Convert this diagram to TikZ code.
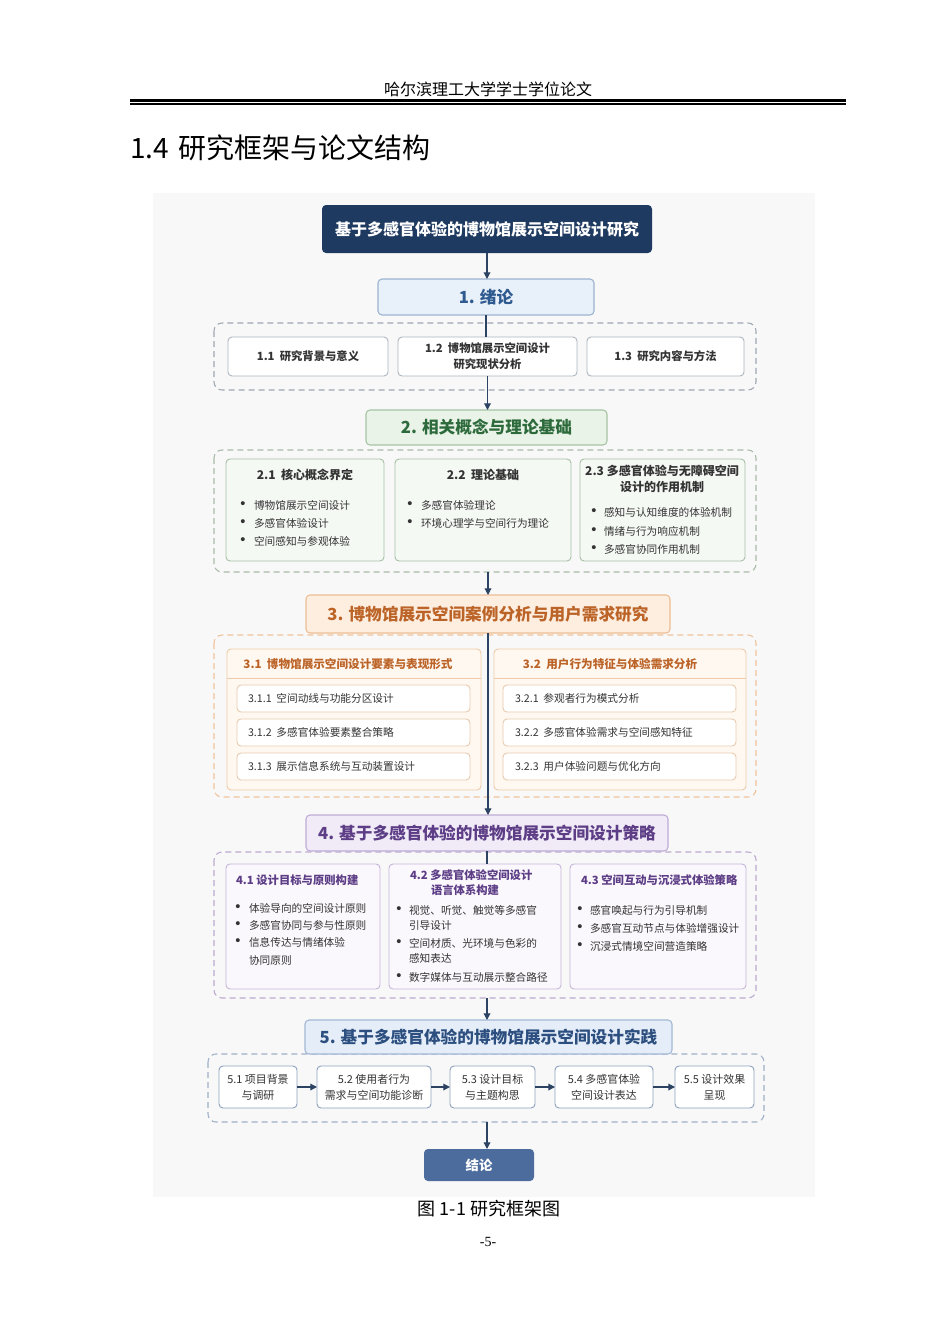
\documentclass[tikz,border=0pt]{standalone}
\usepackage{fontspec}
\setmainfont{Liberation Serif}
\newfontfamily\cjk{Noto Sans CJK SC}
\newfontfamily\bulfont{Liberation Sans}
\usetikzlibrary{arrows.meta,fit}
\definecolor{navy}{HTML}{1F3A60}
\definecolor{arr}{HTML}{2D4363}
\definecolor{bgc}{HTML}{F8F8F8}
\definecolor{txt}{HTML}{333333}
\definecolor{aF}{HTML}{E8F0FA}\definecolor{aD}{HTML}{9DB3D0}\definecolor{aT}{HTML}{2F5A8F}
\definecolor{gG}{HTML}{A0A8B3}\definecolor{iD}{HTML}{AEB6BF}
\definecolor{bF}{HTML}{EAF3E8}\definecolor{bD}{HTML}{A5C4A3}\definecolor{bT}{HTML}{2E6B3C}
\definecolor{bG}{HTML}{A8BBA8}\definecolor{bxF}{HTML}{F5F9F4}\definecolor{bxD}{HTML}{A7C0A6}
\definecolor{cF}{HTML}{FDEEE0}\definecolor{cD}{HTML}{EDBE93}\definecolor{cT}{HTML}{BC6428}
\definecolor{cG}{HTML}{EFC39A}\definecolor{cpF}{HTML}{FFF8F1}\definecolor{cpD}{HTML}{EECBA8}\definecolor{ciD}{HTML}{E8CBAE}
\definecolor{dF}{HTML}{F1EBF7}\definecolor{dD}{HTML}{BEACD6}\definecolor{dT}{HTML}{5C3D86}
\definecolor{dG}{HTML}{BBAACF}\definecolor{dxF}{HTML}{FBF8FD}\definecolor{dxD}{HTML}{C6B6DA}
\definecolor{eF}{HTML}{E4EDF8}\definecolor{eD}{HTML}{A3B8D6}\definecolor{eT}{HTML}{2C4F80}
\definecolor{eG}{HTML}{9FB0C8}\definecolor{exD}{HTML}{8EA2BF}
\definecolor{endc}{HTML}{4B6C9D}
\newcommand\fsz[2]{\fontsize{#1pt}{#2pt}\selectfont}
\newcommand\bul[4]{\node[bdot] at (#1,#3) {•};\node[btxt,anchor=west] at (#2,#3) {#4};}
\begin{document}
\begin{tikzpicture}[x=0.75pt,y=-0.75pt,
  every node/.style={inner sep=0pt,outer sep=0pt},
  secbox/.style={rounded corners=3pt,line width=0.8pt},
  sectxt/.style={font=\cjk\bfseries\fsz{12.5}{15}},
  grp/.style={draw=#1,dash pattern=on 4.5pt off 3pt,rounded corners=6pt,line width=0.8pt},
  itembox/.style={draw=#1,fill=white,rounded corners=3pt,line width=0.7pt},
  subbox/.style={rounded corners=3pt,line width=0.7pt},
  btxt/.style={font=\cjk\fsz{8}{10},text=txt},
  bdot/.style={font=\bulfont\fsz{11}{12},text=txt},
  ttl/.style={font=\cjk\bfseries\fsz{9}{12},align=center},
  conn/.style={draw=arr,line width=0.9pt},
  arw/.style={conn,-{Triangle[length=5pt,width=5pt]}}]
\useasboundingbox (0,0) rectangle (950,1342);
\fill[white] (0,0) rectangle (950,1342);
% page header
\node[font=\cjk\fsz{12}{14}] (hdr) at (488,89) {哈尔滨理工大学学士学位论文};
\draw[line width=2.25pt] (130,100.5) -- (846,100.5);
\draw[line width=0.9pt] (130,104) -- (846,104);
\node[anchor=west,font=\cjk\fsz{21}{24}] (sec) at (130,148) {1.4\hspace{7pt}研究框架与论文结构};
% diagram background
\fill[bgc] (153,193) rectangle (815,1197);
% groups
\draw[grp=gG] (214,323) rectangle (756,390);
\draw[grp=bG] (214,450) rectangle (756,572);
\draw[grp=cG] (214,635) rectangle (756,797);
\draw[grp=dG] (214,852) rectangle (756,998);
\draw[grp=eG] (208,1054) rectangle (764,1122);
\node[fit={(214,323)(756,390)}] (g1) {};
\node[fit={(214,450)(756,572)}] (g2) {};
\node[fit={(214,635)(756,797)}] (g3) {};
\node[fit={(214,852)(756,998)}] (g4) {};
\node[fit={(208,1054)(764,1122)}] (g5) {};
% box shapes (empty fitted nodes)
\node[fill=navy,rounded corners=3pt,fit={(322,205)(652,253)}] (title) {};
\node[secbox,fill=aF,draw=aD,fit={(378,279)(594,315)}] (s1) {};
\node[itembox=iD,fit={(228,337)(388,376)}] (b11) {};
\node[itembox=iD,fit={(398,337)(577,376)}] (b12) {};
\node[itembox=iD,fit={(587,337)(744,376)}] (b13) {};
\node[secbox,fill=bF,draw=bD,fit={(366,410)(607,445)}] (s2) {};
\node[subbox,fill=bxF,draw=bxD,fit={(226,459)(384,561)}] (b21) {};
\node[subbox,fill=bxF,draw=bxD,fit={(395,459)(571,561)}] (b22) {};
\node[subbox,fill=bxF,draw=bxD,fit={(580,459)(745,561)}] (b23) {};
\node[secbox,fill=cF,draw=cD,fit={(306,595)(670,633)}] (s3) {};
\node[subbox,fill=cpF,draw=cpD,fit={(227,649)(481,790)}] (p31) {};
\node[subbox,fill=cpF,draw=cpD,fit={(494,649)(746,790)}] (p32) {};
\node[secbox,fill=dF,draw=dD,fit={(306,815)(668,851)}] (s4) {};
\node[subbox,fill=dxF,draw=dxD,fit={(226,864)(380,989)}] (b41) {};
\node[subbox,fill=dxF,draw=dxD,fit={(389,864)(561,989)}] (b42) {};
\node[subbox,fill=dxF,draw=dxD,fit={(570,864)(746,989)}] (b43) {};
\node[secbox,fill=eF,draw=eD,fit={(305,1020)(672,1054)}] (s5) {};
\tikzset{fivebox/.style={draw=exD,fill=white,rounded corners=3pt,line width=0.7pt}}
\node[fivebox,fit={(219,1066)(297,1108)}] (b51) {};
\node[fivebox,fit={(317,1066)(431,1108)}] (b52) {};
\node[fivebox,fit={(450,1066)(535,1108)}] (b53) {};
\node[fivebox,fit={(555,1066)(653,1108)}] (b54) {};
\node[fivebox,fit={(675,1066)(754,1108)}] (b55) {};
\node[fill=endc,rounded corners=3pt,fit={(424,1149)(534,1181)}] (end) {};
% connectors
\draw[arw] (title.south) -- (title.south |- s1.north);
\draw[conn] (s1.south) -- (s1.south |- b12.north);
\draw[arw] (b12.south) -- (b12.south |- s2.north);
\draw[arw] (s3.north |- g2.south) -- (s3.north);
\draw[arw] (s3.south) -- (s3.south |- s4.north);
\draw[conn] (s4.south) -- (s4.south |- b42.north);
\draw[arw] (s4.south |- g4.south) -- (s4.south |- s5.north);
\draw[arw] (s4.south |- g5.south) -- (s4.south |- end.north);
\draw[arw] (b51.east) -- (b52.west);
\draw[arw] (b52.east) -- (b53.west);
\draw[arw] (b53.east) -- (b54.west);
\draw[arw] (b54.east) -- (b55.west);
% texts
\node[font=\cjk\bfseries\fsz{12}{14},text=white] (titlet) at (title) {基于多感官体验的博物馆展示空间设计研究};
\node[sectxt,text=aT] (s1t) at (s1) {1. 绪论};
\node[font=\cjk\bfseries\fsz{8.5}{12},text=txt] (b11t) at (b11) {1.1\ \ 研究背景与意义};
\node[font=\cjk\bfseries\fsz{8.5}{12},text=txt,align=center] (b12t) at (b12) {1.2\ \ 博物馆展示空间设计\\研究现状分析};
\node[font=\cjk\bfseries\fsz{8.5}{12},text=txt] (b13t) at (b13) {1.3\ \ 研究内容与方法};
\node[sectxt,text=bT] (s2t) at (s2) {2. 相关概念与理论基础};
\node[ttl,text=txt] (t21) at (305,475) {2.1\ \ 核心概念界定};
\node[ttl,text=txt] (t22) at (483,475) {2.2\ \ 理论基础};
\node[ttl,text=txt] (t23) at (662,479) {2.3 多感官体验与无障碍空间\\设计的作用机制};
\bul{243}{254}{505}{博物馆展示空间设计}
\bul{243}{254}{523}{多感官体验设计}
\bul{243}{254}{541}{空间感知与参观体验}
\bul{410}{421}{505}{多感官体验理论}
\bul{410}{421}{523}{环境心理学与空间行为理论}
\bul{594}{604}{512}{感知与认知维度的体验机制}
\bul{594}{604}{531}{情绪与行为响应机制}
\bul{594}{604}{549}{多感官协同作用机制}
\node[sectxt,text=cT] (s3t) at (s3) {3. 博物馆展示空间案例分析与用户需求研究};
\draw[cpD,line width=0.7pt] (p31.west |- 0,678) -- (p31.east |- 0,678);
\draw[cpD,line width=0.7pt] (p32.west |- 0,678) -- (p32.east |- 0,678);
\node[font=\cjk\bfseries\fsz{8.7}{11},text=cT] (t31) at (348,664) {3.1\ \ 博物馆展示空间设计要素与表现形式};
\node[font=\cjk\bfseries\fsz{8.7}{11},text=cT] (t32) at (610,664) {3.2\ \ 用户行为特征与体验需求分析};
\node[itembox=ciD,fit={(237,685)(470,712)}] (i311) {};
\node[itembox=ciD,fit={(237,719)(470,746)}] (i312) {};
\node[itembox=ciD,fit={(237,753)(470,780)}] (i313) {};
\node[itembox=ciD,fit={(503,685)(736,712)}] (i321) {};
\node[itembox=ciD,fit={(503,719)(736,746)}] (i322) {};
\node[itembox=ciD,fit={(503,753)(736,780)}] (i323) {};
\node[btxt,anchor=west] (i311t) at (248,698.5) {3.1.1\ \ 空间动线与功能分区设计};
\node[btxt,anchor=west] (i312t) at (248,732.5) {3.1.2\ \ 多感官体验要素整合策略};
\node[btxt,anchor=west] (i313t) at (248,766.5) {3.1.3\ \ 展示信息系统与互动装置设计};
\node[btxt,anchor=west] (i321t) at (515,698.5) {3.2.1\ \ 参观者行为模式分析};
\node[btxt,anchor=west] (i322t) at (515,732.5) {3.2.2\ \ 多感官体验需求与空间感知特征};
\node[btxt,anchor=west] (i323t) at (515,766.5) {3.2.3\ \ 用户体验问题与优化方向};
\node[sectxt,text=dT] (s4t) at (s4) {4. 基于多感官体验的博物馆展示空间设计策略};
\node[font=\cjk\bfseries\fsz{8.5}{11},text=dT,anchor=west] (t41) at (236,880) {4.1 设计目标与原则构建};
\node[font=\cjk\bfseries\fsz{8.5}{11},text=dT,anchor=west] (t42a) at (410,875) {4.2 多感官体验空间设计};
\node[font=\cjk\bfseries\fsz{8.5}{11},text=dT,anchor=west] (t42b) at (431,890) {语言体系构建};
\node[font=\cjk\bfseries\fsz{8.5}{11},text=dT,anchor=west] (t43) at (581,880) {4.3 空间互动与沉浸式体验策略};
\bul{238}{249}{908}{体验导向的空间设计原则}
\bul{238}{249}{925}{多感官协同与参与性原则}
\bul{238}{249}{942}{信息传达与情绪体验}
\node[btxt,anchor=west] (c41) at (249,960) {协同原则};
\bul{399}{409}{910}{视觉、听觉、触觉等多感官}
\node[btxt,anchor=west] (c42a) at (409,925) {引导设计};
\bul{399}{409}{943}{空间材质、光环境与色彩的}
\node[btxt,anchor=west] (c42b) at (409,958) {感知表达};
\bul{399}{409}{977}{数字媒体与互动展示整合路径}
\bul{580}{590}{910}{感官唤起与行为引导机制}
\bul{580}{590}{928}{多感官互动节点与体验增强设计}
\bul{580}{590}{946}{沉浸式情境空间营造策略}
\node[sectxt,text=eT] (s5t) at (s5) {5. 基于多感官体验的博物馆展示空间设计实践};
\tikzset{fivetxt/.style={font=\cjk\fsz{8.2}{12},text=txt,align=center}}
\node[fivetxt] (b51t) at (b51) {5.1 项目背景\\与调研};
\node[fivetxt] (b52t) at (b52) {5.2 使用者行为\\需求与空间功能诊断};
\node[fivetxt] (b53t) at (b53) {5.3 设计目标\\与主题构思};
\node[fivetxt] (b54t) at (b54) {5.4 多感官体验\\空间设计表达};
\node[fivetxt] (b55t) at (b55) {5.5 设计效果\\呈现};
\node[font=\cjk\bfseries\fsz{10}{12},text=white] (endt) at (end) {结论};
% caption
\node[font=\cjk\fsz{13.5}{16}] (cap) at (489,1209) {图 1-1 研究框架图};
\node[font=\fsz{10.5}{12}] (pg) at (488,1242) {-5-};
\end{tikzpicture}
\end{document}
